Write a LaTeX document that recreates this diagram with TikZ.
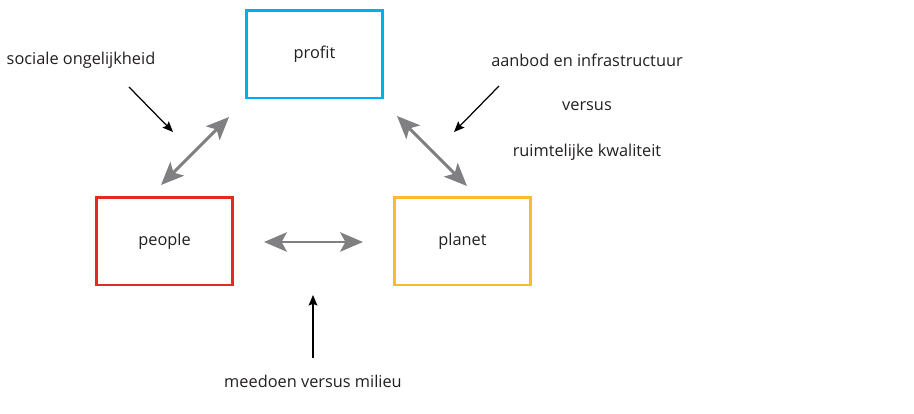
\documentclass[tikz,border=0pt]{standalone}
\usepackage{fontspec}
\setmainfont{Open Sans}
\usetikzlibrary{arrows.meta}
\definecolor{profitblue}{RGB}{0,174,239}
\definecolor{peoplered}{RGB}{230,40,36}
\definecolor{planetyellow}{RGB}{251,186,48}
\definecolor{linkgray}{RGB}{128,128,130}
\definecolor{textgray}{RGB}{35,31,32}
\tikzset{
	pillar/.style={draw=#1, line width=1.7pt, minimum width=2.72cm, minimum height=1.76cm,
		inner sep=0pt, text=textgray},
	link/.style={linkgray, line width=1.7pt,
		{Stealth[length=13pt, width=11pt, inset=3pt]}-{Stealth[length=13pt, width=11pt, inset=3pt]}},
	hint/.style={black, line width=0.7pt, -{Stealth[length=6pt, width=5pt, inset=1pt]}},
	caption/.style={text=textgray, inner sep=0pt}
}
\begin{document}
\begin{tikzpicture}[x=0.02cm, y=-0.02cm, font=\fontsize{9.3}{11}\selectfont]
		\useasboundingbox (0,0) rectangle (914,413);
		
		% Profit
		\node [pillar=profitblue] (profit) at (314.5,54) {profit};
		
		% People
		\node [pillar=peoplered] (people) at (164.5,241) {people};
		
		% Planet
		\node [pillar=planetyellow] (planet) at (462.5,241) {planet};
		
		% Arrow ends
		\coordinate (pp1) at (229,117);
		\coordinate (pp2) at (161,185);
		\coordinate (pl1) at (397,116);
		\coordinate (pl2) at (467,186);
		\coordinate (pe1) at (264,242);
		\coordinate (pe2) at (363,242);
		
		\draw [link] (pp1) -- (pp2);
		\draw [link] (pl1) -- (pl2);
		\draw [link] (pe1) -- (pe2);
		
		% Labels
		\node [caption] (social) at (81,60) {sociale ongelijkheid};
		\node [caption] (offer) at (587,60) {aanbod en infrastructuur};
		\node [caption] (versus) at (587,106) {versus};
		\node [caption] (space) at (587,152) {ruimtelijke kwaliteit};
		\node [caption] (join) at (313,381) {meedoen versus milieu};
		
		% Pointers
		\coordinate (s1) at (129,87);
		\coordinate (s2) at (173,132);
		\coordinate (o1) at (499,86);
		\coordinate (o2) at (454,132);
		\coordinate (j1) at (313,358);
		\coordinate (j2) at (313,295);
		
		\draw [hint] (s1) -- (s2);
		\draw [hint] (o1) -- (o2);
		\draw [hint] (j1) -- (j2);
		
	\end{tikzpicture}
\end{document}
